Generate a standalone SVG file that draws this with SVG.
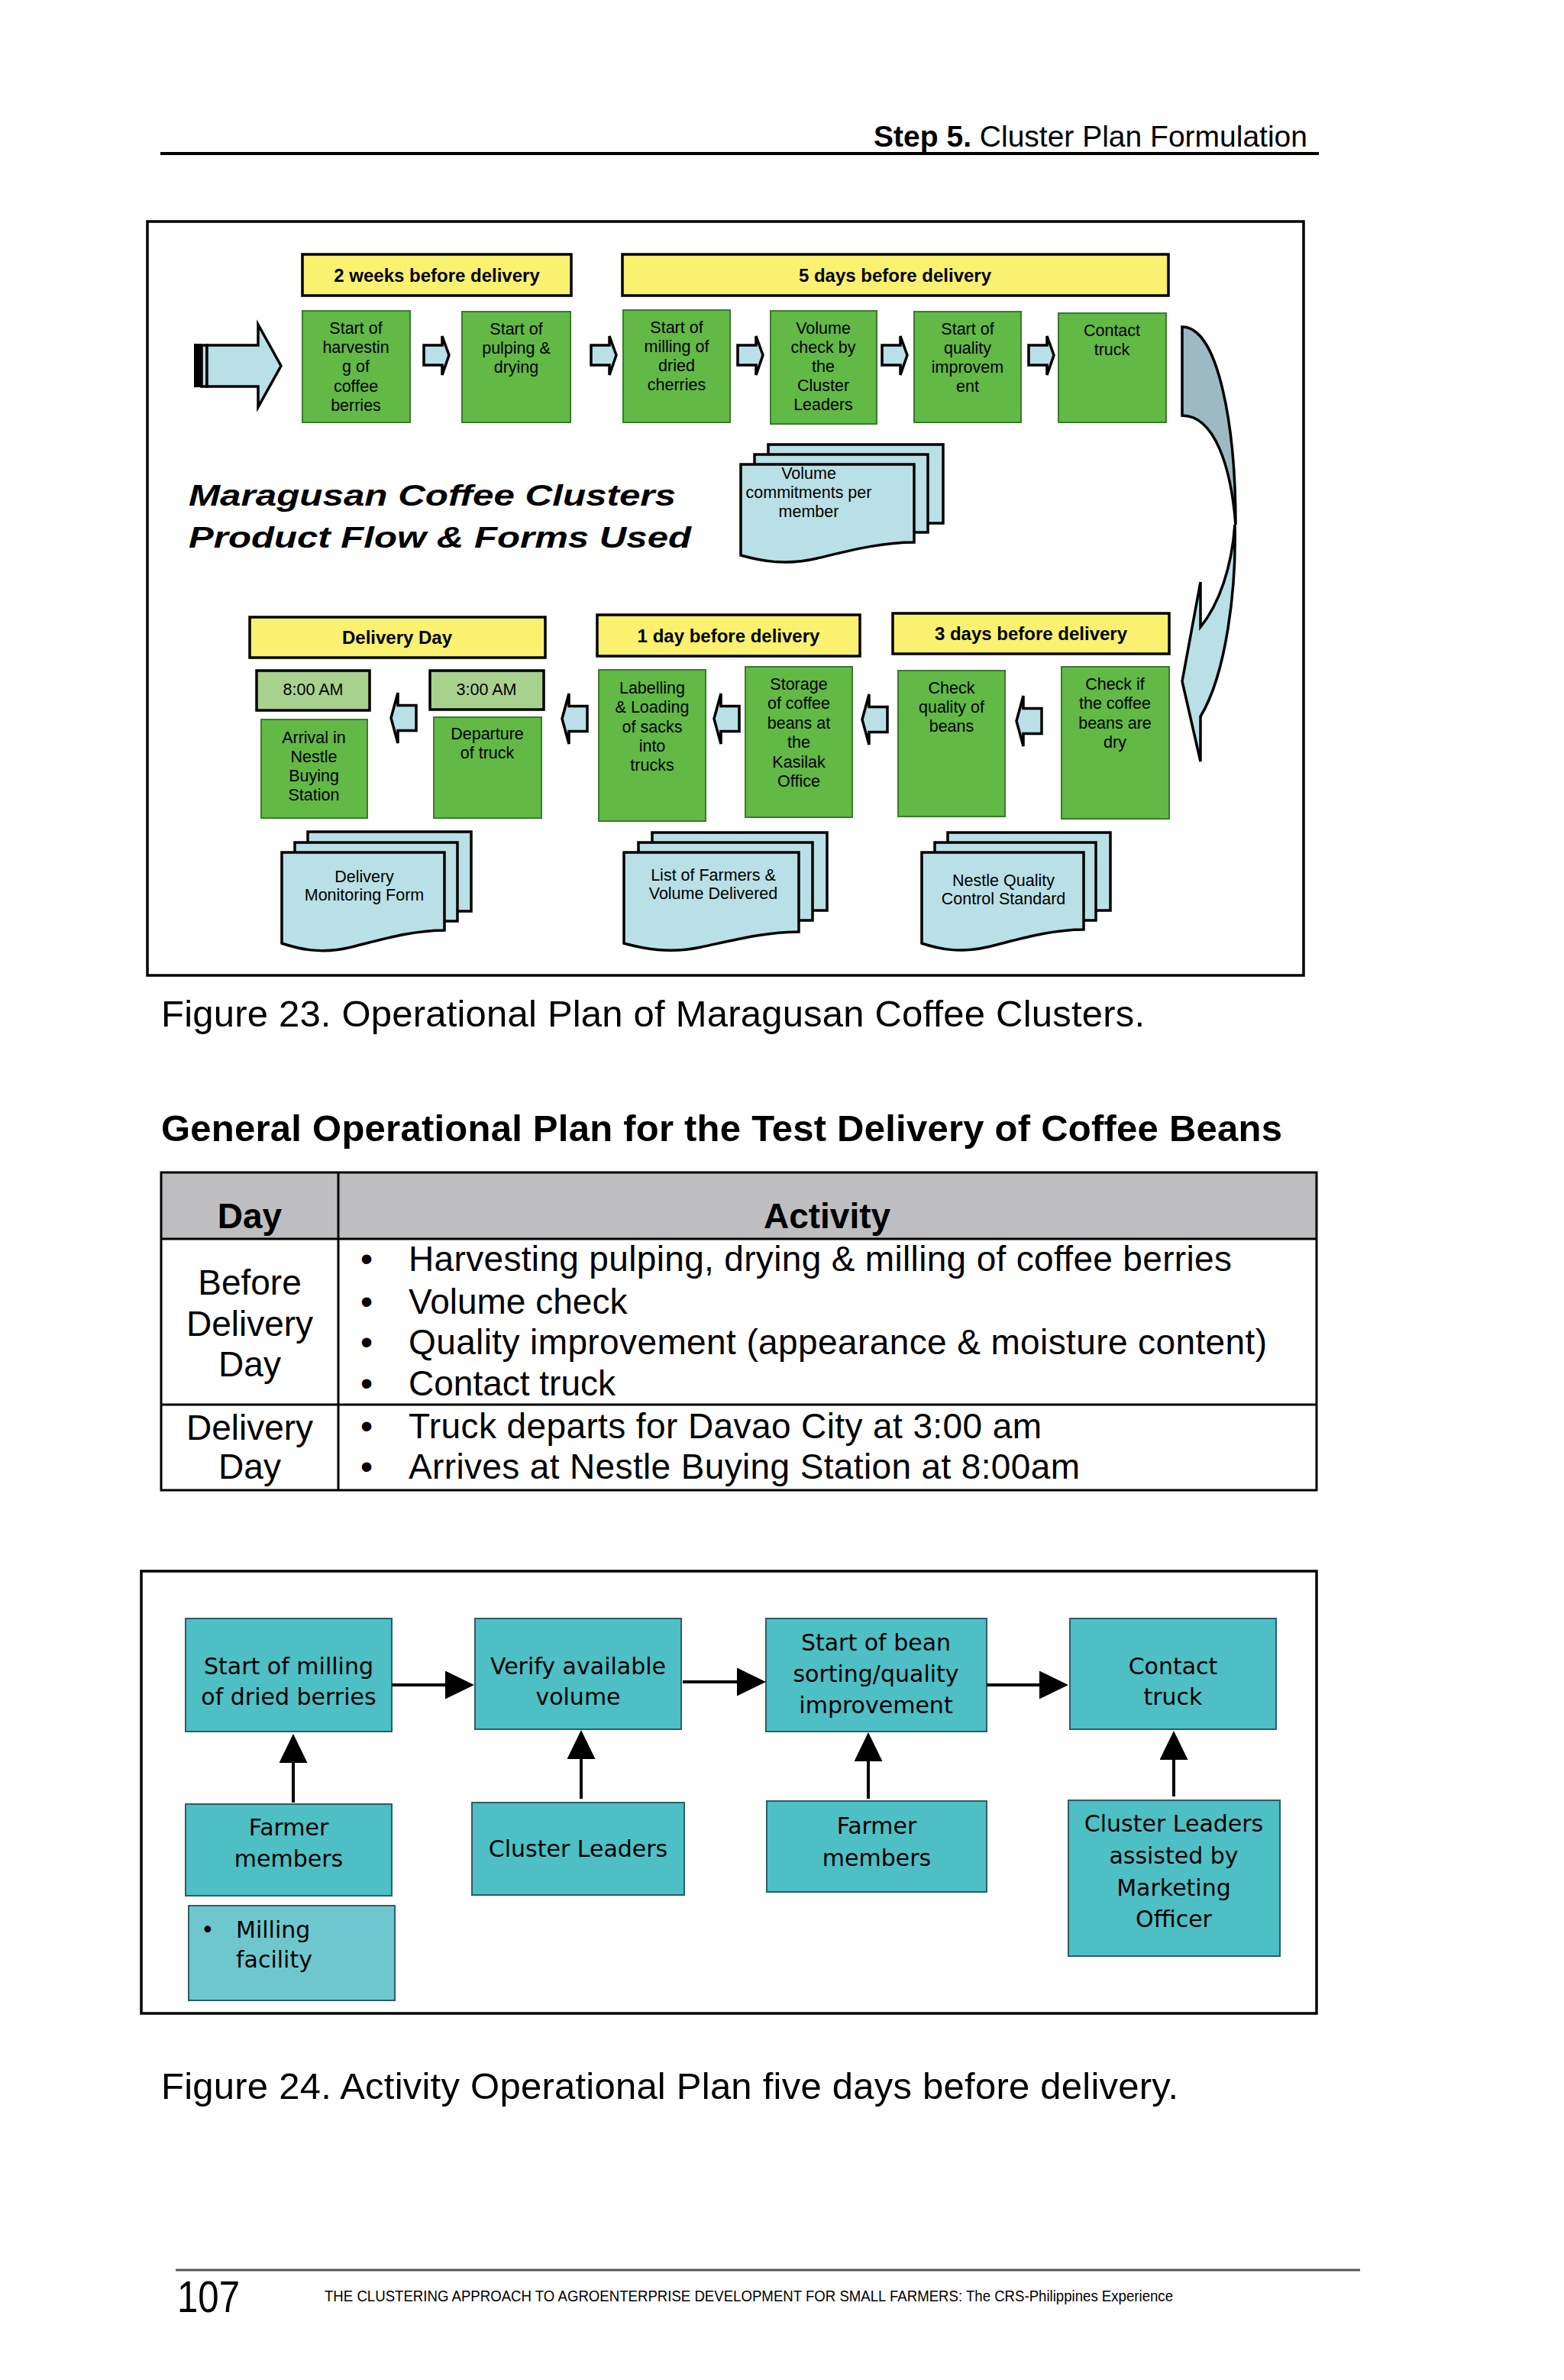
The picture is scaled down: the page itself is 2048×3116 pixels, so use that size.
<svg xmlns="http://www.w3.org/2000/svg" width="2048" height="3116" viewBox="0 0 2048 3116">
<style>
text{font-family:"Liberation Sans",Arial,sans-serif;fill:#000}
.frame{fill:none;stroke:#000;stroke-width:3.5}
.yel{fill:#F9F16F;stroke:#000;stroke-width:3.5}
.grn{fill:#62B946;stroke:#3A7A2E;stroke-width:2}
.tim{fill:#A9D18E;stroke:#000;stroke-width:3.5}
.blu{fill:#B9E0E6;stroke:#000;stroke-width:3.5;stroke-linejoin:miter}
.dark{fill:#9DBAC2;stroke:#000;stroke-width:3.5}
.lbl{font-size:24px;font-weight:bold;text-anchor:middle}
.gt{font-size:21.5px;text-anchor:middle}
.teal{fill:#4DBFC5;stroke:#2B5F66;stroke-width:2}
.teal2{fill:#6EC7CE;stroke:#2B5F66;stroke-width:2}
.tt{font-family:"DejaVu Sans",Verdana,sans-serif;font-size:30px;text-anchor:middle}
.ttl{font-family:"DejaVu Sans",Verdana,sans-serif;font-size:30px;text-anchor:start}
.tb{font-size:46px}
.tbc{font-size:46px;text-anchor:middle}
.cap{font-size:49px}
.ln{stroke:#000;stroke-width:4;fill:none}
.tl{stroke:#000;stroke-width:3;fill:none}
</style>
<defs>
<path id="ra" d="M0,-13 H24 V-25 L33,0 L24,26 V13 H0 Z"/>
<path id="la" d="M33,-16.5 H9 V-33 L0,0 L9,33 V16.5 H33 Z"/>
<marker id="ah" markerUnits="userSpaceOnUse" markerWidth="40" markerHeight="40" refX="8" refY="18.5" orient="auto">
<path d="M0,0 L38,18.5 L0,37 Z" fill="#000"/>
</marker>
</defs>

<!-- page header -->
<g id="page-header">
<text x="1712" y="192" text-anchor="end" font-size="39"><tspan font-weight="bold">Step 5.</tspan> Cluster Plan Formulation</text>
<line x1="210" y1="201" x2="1727" y2="201" stroke="#000" stroke-width="4"/>
</g>

<!-- ===== Figure 23 ===== -->
<rect id="fig23-frame" class="frame" x="193" y="290" width="1514" height="987"/>

<g id="title23">
<text x="247" y="662" font-size="39" font-weight="bold" font-style="italic" textLength="638" lengthAdjust="spacingAndGlyphs">Maragusan Coffee Clusters</text>
<text x="247" y="717" font-size="39" font-weight="bold" font-style="italic" textLength="658" lengthAdjust="spacingAndGlyphs">Product Flow &amp; Forms Used</text>
</g>

<g id="lbl-2weeks"><rect class="yel" x="396" y="333" width="352" height="54"/><text class="lbl" x="572" y="369">2 weeks before delivery</text></g>
<g id="lbl-5days"><rect class="yel" x="815" y="333" width="715" height="54"/><text class="lbl" x="1172" y="369">5 days before delivery</text></g>
<g id="lbl-delivery"><rect class="yel" x="327" y="808" width="387" height="53"/><text class="lbl" x="520" y="843">Delivery Day</text></g>
<g id="lbl-1day"><rect class="yel" x="782" y="805" width="344" height="54"/><text class="lbl" x="954" y="841">1 day before delivery</text></g>
<g id="lbl-3days"><rect class="yel" x="1169" y="803" width="362" height="53"/><text class="lbl" x="1350" y="838">3 days before delivery</text></g>

<g id="n-harvest"><rect class="grn" x="396" y="407" width="141" height="146"/>
<text class="gt"><tspan x="466" y="437">Start of</tspan><tspan x="466" y="462">harvestin</tspan><tspan x="466" y="487">g of</tspan><tspan x="466" y="513">coffee</tspan><tspan x="466" y="538">berries</tspan></text></g>
<g id="n-pulping"><rect class="grn" x="605" y="408" width="142" height="145"/>
<text class="gt"><tspan x="676" y="438">Start of</tspan><tspan x="676" y="463">pulping &amp;</tspan><tspan x="676" y="488">drying</tspan></text></g>
<g id="n-milling"><rect class="grn" x="816" y="406" width="140" height="147"/>
<text class="gt"><tspan x="886" y="436">Start of</tspan><tspan x="886" y="461">milling of</tspan><tspan x="886" y="486">dried</tspan><tspan x="886" y="511">cherries</tspan></text></g>
<g id="n-volume"><rect class="grn" x="1009" y="407" width="139" height="148"/>
<text class="gt"><tspan x="1078" y="437">Volume</tspan><tspan x="1078" y="462">check by</tspan><tspan x="1078" y="487">the</tspan><tspan x="1078" y="512">Cluster</tspan><tspan x="1078" y="537">Leaders</tspan></text></g>
<g id="n-quality"><rect class="grn" x="1197" y="408" width="140" height="145"/>
<text class="gt"><tspan x="1267" y="438">Start of</tspan><tspan x="1267" y="463">quality</tspan><tspan x="1267" y="488">improvem</tspan><tspan x="1267" y="513">ent</tspan></text></g>
<g id="n-contact"><rect class="grn" x="1386" y="410" width="141" height="143"/>
<text class="gt"><tspan x="1456" y="440">Contact</tspan><tspan x="1456" y="465">truck</tspan></text></g>

<g id="n-800"><rect class="tim" x="336" y="878" width="148" height="52"/><text class="gt" x="410" y="910">8:00 AM</text></g>
<g id="n-300"><rect class="tim" x="563" y="878" width="149" height="51"/><text class="gt" x="637" y="910">3:00 AM</text></g>
<g id="n-arrival"><rect class="grn" x="342" y="942" width="139" height="129"/>
<text class="gt"><tspan x="411" y="973">Arrival in</tspan><tspan x="411" y="998">Nestle</tspan><tspan x="411" y="1023">Buying</tspan><tspan x="411" y="1048">Station</tspan></text></g>
<g id="n-departure"><rect class="grn" x="568" y="939" width="141" height="132"/>
<text class="gt"><tspan x="638" y="968">Departure</tspan><tspan x="638" y="993">of truck</tspan></text></g>
<g id="n-labelling"><rect class="grn" x="784" y="877" width="140" height="198"/>
<text class="gt"><tspan x="854" y="908">Labelling</tspan><tspan x="854" y="933">&amp; Loading</tspan><tspan x="854" y="959">of sacks</tspan><tspan x="854" y="984">into</tspan><tspan x="854" y="1009">trucks</tspan></text></g>
<g id="n-storage"><rect class="grn" x="976" y="873" width="140" height="197"/>
<text class="gt"><tspan x="1046" y="903">Storage</tspan><tspan x="1046" y="928">of coffee</tspan><tspan x="1046" y="954">beans at</tspan><tspan x="1046" y="979">the</tspan><tspan x="1046" y="1005">Kasilak</tspan><tspan x="1046" y="1030">Office</tspan></text></g>
<g id="n-checkq"><rect class="grn" x="1176" y="878" width="140" height="191"/>
<text class="gt"><tspan x="1246" y="908">Check</tspan><tspan x="1246" y="933">quality of</tspan><tspan x="1246" y="958">beans</tspan></text></g>
<g id="n-checkdry"><rect class="grn" x="1390" y="873" width="141" height="199"/>
<text class="gt"><tspan x="1460" y="903">Check if</tspan><tspan x="1460" y="928">the coffee</tspan><tspan x="1460" y="954">beans are</tspan><tspan x="1460" y="979">dry</tspan></text></g>

<!-- document stacks -->
<g id="doc-volume">
<rect class="blu" x="1006" y="582" width="229" height="103"/>
<rect class="blu" x="988" y="595" width="227" height="102"/>
<path class="blu" d="M970,608 H1197 V710 C1153,710 1112,721 1070,731 C1028,741 995,734 970,727 Z"/>
<text class="gt" font-size="21"><tspan x="1059" y="627">Volume</tspan><tspan x="1059" y="652">commitments per</tspan><tspan x="1059" y="677">member</tspan></text>
</g>
<g id="doc-delivery">
<rect class="blu" x="403" y="1089" width="214" height="104"/>
<rect class="blu" x="386" y="1103" width="213" height="103"/>
<path class="blu" d="M369,1116 H582 V1218 C540,1218 500,1230 460,1240 C420,1250 390,1242 369,1235 Z"/>
<text class="gt"><tspan x="477" y="1155">Delivery</tspan><tspan x="477" y="1179">Monitoring Form</tspan></text>
</g>
<g id="doc-list">
<rect class="blu" x="854" y="1090" width="229" height="102"/>
<rect class="blu" x="836" y="1103" width="228" height="102"/>
<path class="blu" d="M817,1116 H1046 V1220 C1002,1220 960,1231 918,1240 C876,1249 842,1242 817,1235 Z"/>
<text class="gt"><tspan x="934" y="1153">List of Farmers &amp;</tspan><tspan x="934" y="1177">Volume Delivered</tspan></text>
</g>
<g id="doc-nestle">
<rect class="blu" x="1241" y="1090" width="213" height="102"/>
<rect class="blu" x="1224" y="1103" width="211" height="102"/>
<path class="blu" d="M1207,1116 H1419 V1217 C1377,1217 1337,1229 1297,1239 C1257,1249 1228,1242 1207,1235 Z"/>
<text class="gt"><tspan x="1314" y="1160">Nestle Quality</tspan><tspan x="1314" y="1184">Control Standard</tspan></text>
</g>

<!-- connectors figure 23 -->
<g id="connectors23">
<g id="start-arrow">
<rect x="254" y="450" width="10" height="57" fill="#000"/>
<rect class="blu" x="264" y="452" width="7" height="54" stroke-width="2.5"/>
<path class="blu" d="M271,452 H338 V425 L368,479 L338,533 V506 H271 Z"/>
</g>
<use href="#ra" class="blu" transform="translate(555,465)"/>
<use href="#ra" class="blu" transform="translate(774,465)"/>
<use href="#ra" class="blu" transform="translate(966,465)"/>
<use href="#ra" class="blu" transform="translate(1155,465)"/>
<use href="#ra" class="blu" transform="translate(1347,465)"/>
<g id="curved-arrow">
<path class="dark" d="M1548,428 C1596,428 1618,560 1618,687 C1612,610 1590,544 1548,544 Z"/>
<path class="blu" d="M1617,687 C1619,770 1606,882 1572,938 L1572,997 L1548,892 L1572,762 L1572,821 C1597,790 1613,742 1617,687 Z"/>
</g>
<use href="#la" class="blu" transform="translate(512,940)"/>
<use href="#la" class="blu" transform="translate(736,941)"/>
<use href="#la" class="blu" transform="translate(935,941)"/>
<use href="#la" class="blu" transform="translate(1129,942)"/>
<use href="#la" class="blu" transform="translate(1331,944)"/>
</g>

<text id="caption23" class="cap" x="211" y="1344" textLength="1288">Figure 23. Operational Plan of Maragusan Coffee Clusters.</text>

<!-- ===== Table ===== -->
<text id="table-title" x="211" y="1494" font-size="49" font-weight="bold" textLength="1468">General Operational Plan for the Test Delivery of Coffee Beans</text>
<g id="table">
<rect x="211" y="1535" width="1513" height="87" fill="#BEBEC0"/>
<rect class="tl" x="211" y="1535" width="1513" height="416"/>
<line class="tl" x1="211" y1="1622" x2="1724" y2="1622"/>
<line class="tl" x1="211" y1="1839" x2="1724" y2="1839"/>
<line class="tl" x1="443" y1="1535" x2="443" y2="1951"/>
<text class="tbc" x="327" y="1608" font-weight="bold">Day</text>
<text class="tbc" x="1083" y="1608" font-weight="bold">Activity</text>
<text class="tbc"><tspan x="327" y="1695">Before</tspan><tspan x="327" y="1749">Delivery</tspan><tspan x="327" y="1802">Day</tspan></text>
<text class="tbc"><tspan x="327" y="1885">Delivery</tspan><tspan x="327" y="1936">Day</tspan></text>
<g class="bullets">
<text class="tb" x="472" y="1664">•</text>
<text class="tb" x="472" y="1720">•</text>
<text class="tb" x="472" y="1773">•</text>
<text class="tb" x="472" y="1827">•</text>
<text class="tb" x="472" y="1883">•</text>
<text class="tb" x="472" y="1936">•</text>
</g>
<text class="tb" x="535" y="1664" textLength="1078">Harvesting pulping, drying &amp; milling of coffee berries</text>
<text class="tb" x="535" y="1720">Volume check</text>
<text class="tb" x="535" y="1773" textLength="1124">Quality improvement (appearance &amp; moisture content)</text>
<text class="tb" x="535" y="1827">Contact truck</text>
<text class="tb" x="535" y="1883" textLength="829">Truck departs for Davao City at 3:00 am</text>
<text class="tb" x="535" y="1936" textLength="879">Arrives at Nestle Buying Station at 8:00am</text>
</g>

<!-- ===== Figure 24 ===== -->
<rect id="fig24-frame" class="frame" x="185" y="2057" width="1539" height="579"/>

<g id="b-milling"><rect class="teal" x="243" y="2119" width="270" height="148"/>
<text class="tt"><tspan x="378" y="2192">Start of milling</tspan><tspan x="378" y="2232">of dried berries</tspan></text></g>
<g id="b-verify"><rect class="teal" x="622" y="2119" width="270" height="145"/>
<text class="tt"><tspan x="757" y="2192">Verify available</tspan><tspan x="757" y="2232">volume</tspan></text></g>
<g id="b-sorting"><rect class="teal" x="1003" y="2119" width="289" height="148"/>
<text class="tt"><tspan x="1147" y="2161">Start of bean</tspan><tspan x="1147" y="2202">sorting/quality</tspan><tspan x="1147" y="2243">improvement</tspan></text></g>
<g id="b-contact"><rect class="teal" x="1401" y="2119" width="270" height="145"/>
<text class="tt"><tspan x="1536" y="2192">Contact</tspan><tspan x="1536" y="2232">truck</tspan></text></g>
<g id="b-farmer1"><rect class="teal" x="243" y="2362" width="270" height="120"/>
<text class="tt"><tspan x="378" y="2403">Farmer</tspan><tspan x="378" y="2444">members</tspan></text></g>
<g id="b-cluster"><rect class="teal" x="618" y="2360" width="278" height="121"/>
<text class="tt" x="757" y="2431">Cluster Leaders</text></g>
<g id="b-farmer2"><rect class="teal" x="1004" y="2358" width="288" height="119"/>
<text class="tt"><tspan x="1148" y="2401">Farmer</tspan><tspan x="1148" y="2443">members</tspan></text></g>
<g id="b-clusterMO"><rect class="teal" x="1399" y="2357" width="277" height="204"/>
<text class="tt"><tspan x="1537" y="2398">Cluster Leaders</tspan><tspan x="1537" y="2440">assisted by</tspan><tspan x="1537" y="2482">Marketing</tspan><tspan x="1537" y="2523">Officer</tspan></text></g>
<g id="b-facility"><rect class="teal2" x="247" y="2495" width="270" height="124"/>
<text class="ttl" x="263" y="2537">•</text>
<text class="ttl"><tspan x="309" y="2537">Milling</tspan><tspan x="309" y="2576">facility</tspan></text></g>

<g id="connectors24">
<line class="ln" x1="513" y1="2206" x2="591" y2="2206" marker-end="url(#ah)"/>
<line class="ln" x1="894" y1="2202" x2="973" y2="2202" marker-end="url(#ah)"/>
<line class="ln" x1="1292" y1="2206" x2="1369" y2="2206" marker-end="url(#ah)"/>
<line class="ln" x1="384" y1="2360" x2="384" y2="2300" marker-end="url(#ah)"/>
<line class="ln" x1="761" y1="2355" x2="761" y2="2295" marker-end="url(#ah)"/>
<line class="ln" x1="1137" y1="2355" x2="1137" y2="2298" marker-end="url(#ah)"/>
<line class="ln" x1="1537" y1="2352" x2="1537" y2="2296" marker-end="url(#ah)"/>
</g>

<text id="caption24" class="cap" x="211" y="2748" textLength="1332">Figure 24. Activity Operational Plan five days before delivery.</text>

<!-- footer -->
<g id="footer">
<line x1="230" y1="2972" x2="1781" y2="2972" stroke="#555" stroke-width="3"/>
<text x="232" y="3027" font-family="'Liberation Serif',serif" font-size="58" textLength="82" lengthAdjust="spacingAndGlyphs">107</text>
<text x="425" y="3013" font-size="20" textLength="1111" lengthAdjust="spacingAndGlyphs">THE CLUSTERING APPROACH TO AGROENTERPRISE DEVELOPMENT FOR SMALL FARMERS: The CRS-Philippines Experience</text>
</g>
</svg>
